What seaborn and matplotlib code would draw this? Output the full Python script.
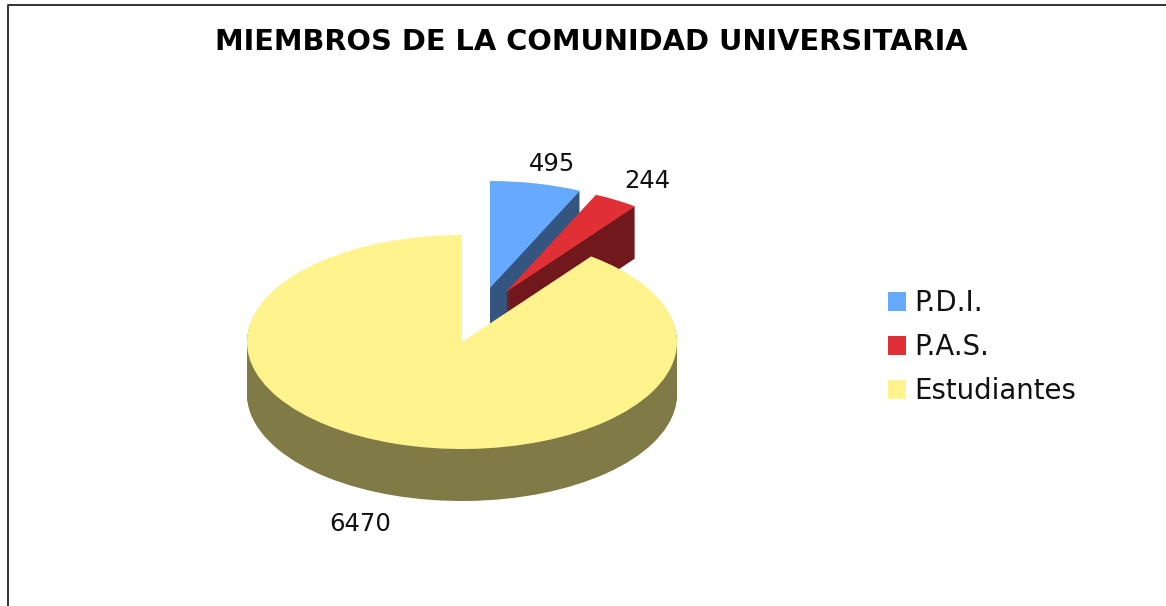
#step 1 - libraries
import matplotlib
matplotlib.use("Agg")
import matplotlib.pyplot as plt
from matplotlib.lines import Line2D
import seaborn as sns

sns.set_theme(style="white")

#step 2
categories = ["P.D.I.", "P.A.S.", "Estudiantes"]
values = [495, 244, 6470]
value_labels = ["495", "244", "6470"]
title = "MIEMBROS DE LA COMUNIDAD UNIVERSITARIA"

# colours for top face and side of the slices
top_colors = sns.color_palette(["#66AAFF", "#E03036", "#FFF38E"])
side_colors = sns.color_palette(["#33557F", "#70181B", "#807A47"])

# figure size in pixels, pie geometry in pixels
W, H = 1166, 606
cx, cy = 462, 342
rx, ry = 215, 107
depth = 52
# how far each slice is pulled out from the centre (pixels)
pull_x = [28, 44, 0]
pull_y = [54, 50, 0]
label_xy = [(552, 164), (647, 181), (360, 524)]

fig = plt.figure(figsize=(W / 100, H / 100), dpi=100, facecolor="white")
ax = fig.add_axes([0, 0, 1, 1])


#step 3 - draw the pie as a stack of pies to fake the 3D depth
def draw_layer(drop, colors, z):
    wedges, _ = ax.pie(values, colors=colors, startangle=90, counterclock=False,
                       wedgeprops={"linewidth": 0})
    for i, w in enumerate(wedges):
        w.set_center((pull_x[i] / rx, (pull_y[i] - drop) / ry))
        w.set_zorder(i * 2 + z)
    return wedges


for drop in range(depth, 0, -1):
    draw_layer(drop, side_colors, 1)
top = draw_layer(0, top_colors, 2)

ax.set_aspect("auto")
ax.set_xlim(-cx / rx, (W - cx) / rx)
ax.set_ylim(-(H - cy) / ry, cy / ry)
ax.axis("off")

#step 4 - texts
fig.text(591 / W, 1 - 42 / H, title, ha="center", va="center", fontsize=20.8,
         fontweight="bold", family="DejaVu Sans", color="black")

for txt, (x, y) in zip(value_labels, label_xy):
    fig.text(x / W, 1 - y / H, txt, ha="center", va="center", fontsize=17.5,
             family="DejaVu Sans", color="#111111")

ax.legend(top, categories, loc="upper left", bbox_to_anchor=(888 / W, 1 - 289 / H),
          frameon=False, prop={"family": "DejaVu Sans", "size": 19.8},
          labelspacing=0.58, handlelength=0.66, handleheight=0.66,
          handletextpad=0.3, borderpad=0, borderaxespad=0, labelcolor="#111111")

# frame of the chart, cut by the picture on the right and bottom
fig.add_artist(Line2D([8 / W, 8 / W, 1], [0, 1 - 5 / H, 1 - 5 / H], color="#333333", linewidth=1.4))

fig.savefig("out.png", dpi=100)
